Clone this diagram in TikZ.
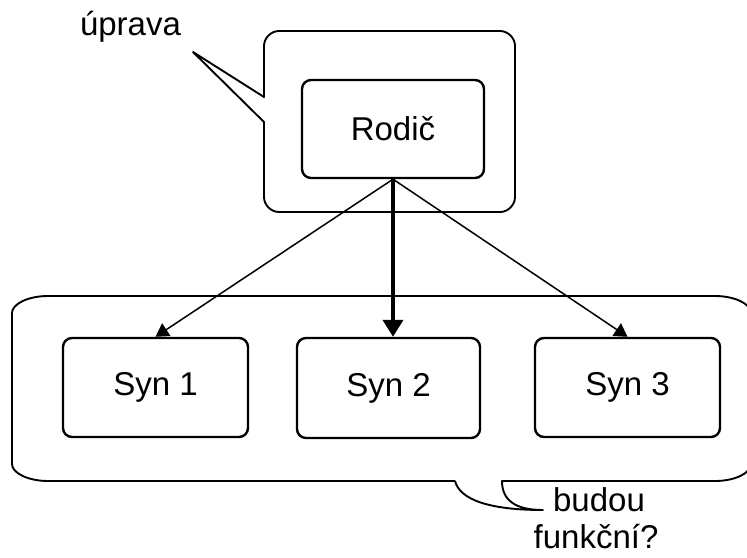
\documentclass[tikz,border=0pt]{standalone}
\usepackage{fontspec}
\setmainfont{Liberation Sans}
\usetikzlibrary{arrows.meta}
\begin{document}
\begin{tikzpicture}[x=1pt,y=-1pt,
  lbl/.style={font=\fontsize{33}{40}\selectfont, inner sep=0pt},
  box/.style={draw, line width=2.4pt, rounded corners=9pt, lbl},
  callout/.style={draw, line width=1.9pt, line join=round},
  thinarrow/.style={line width=1.5pt, -{Triangle[length=13pt,width=15pt]}},
  thickarrow/.style={line width=4pt, -{Triangle[length=17pt,width=20pt]}}]
\useasboundingbox (0,0) rectangle (747,557);

% upper speech bubble around the parent
\draw[callout] (264,97) -- (264,46) .. controls (264,38) and (271,31) .. (279,31)
  -- (500,31) .. controls (508,31) and (515,38) .. (515,46)
  -- (515,197) .. controls (515,205) and (508,212) .. (500,212)
  -- (279,212) .. controls (271,212) and (264,205) .. (264,197)
  -- (264,122) -- (193,52) -- cycle;

% lower speech bubble around the children
\draw[callout] (455,481) -- (48,481) .. controls (28,481) and (12,473) .. (12,464)
  -- (12,313) .. controls (12,304) and (28,296) .. (48,296)
  -- (715,296) .. controls (735,296) and (751,304) .. (751,313)
  -- (751,464) .. controls (751,473) and (735,481) .. (715,481)
  -- (502,481) .. controls (502,500) and (515,510) .. (543,510)
  .. controls (490,510) and (460,500) .. (455,481);

% boxes
\node[box, minimum width=182pt, minimum height=98pt] (rodic) at (393,129) {Rodič};
\node[box, minimum width=185pt, minimum height=99pt] (syn1) at (155.5,387.5) {Syn 1};
\node[box, minimum width=183pt, minimum height=100pt] (syn2) at (388.5,388) {Syn 2};
\node[box, minimum width=185pt, minimum height=99pt] (syn3) at (627.5,387.5) {Syn 3};

% labels
\node[lbl, anchor=base] (uprava) at (130.5,35) {úprava};
\node[lbl, anchor=base] (budou) at (599,511) {budou};
\node[lbl, anchor=base] (funkcni) at (596,548) {funkční?};

% connectors
\coordinate (src) at (rodic.south);
\draw[thinarrow] (src) -- (syn1.north);
\draw[thinarrow] (src) -- (syn3.north);
\draw[thickarrow] (src) -- (src |- syn2.north);
\end{tikzpicture}
\end{document}
